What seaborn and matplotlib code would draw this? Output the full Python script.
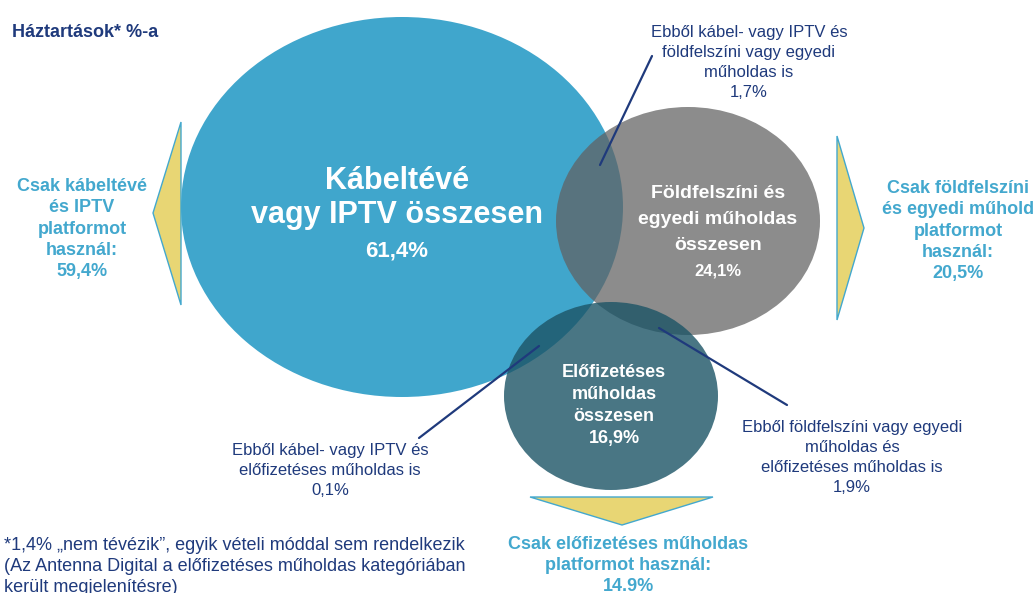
import matplotlib
matplotlib.use("Agg")
import matplotlib.pyplot as plt
import seaborn as sns
from matplotlib.patches import Ellipse, Polygon

# set totals (circle labels)
set_names = ["Kábeltévé\nvagy IPTV összesen",
             "Földfelszíni és\negyedi műholdas\nösszesen",
             "Előfizetéses\nműholdas\nösszesen"]
set_totals = [61.4, 24.1, 16.9]

# only-one-platform callouts
only_labels = ["Csak kábeltévé\nés IPTV\nplatformot\nhasznál:",
               "Csak földfelszíni\nés egyedi műhold\nplatformot\nhasznál:",
               "Csak előfizetéses műholdas\nplatformot használ:"]
only_values = [59.4, 20.5, 14.9]
only_sep = [",", ",", "."]

# overlap annotations
pair_labels = ["Ebből kábel- vagy IPTV és\nföldfelszíni vagy egyedi\nműholdas is",
               "Ebből földfelszíni vagy egyedi\nműholdas és\nelőfizetéses műholdas is",
               "Ebből kábel- vagy IPTV és\nelőfizetéses műholdas is"]
pair_values = [1.7, 1.9, 0.1]

title = "Háztartások* %-a"
no_tv = 1.4
footnote = ("*{} „nem tévézik”, egyik vételi móddal sem rendelkezik\n"
            "(Az Antenna Digital a előfizetéses műholdas kategóriában\n"
            "került megjelenítésre)")

NAVY = "#1f3a7c"
LIGHT = "#43a8ce"


def pct(v, sep=","):
    return f"{v:.1f}".replace(".", sep) + "%"


def lines(ax, x, y0, step, text_lines, sizes, **kw):
    # place each line on its own baseline so sizes can differ
    for i, (t, s) in enumerate(zip(text_lines, sizes)):
        ax.text(x, y0 + i * step, t, ha="center", va="baseline", fontsize=s, **kw)


sns.set_theme(style="white")
plt.rcParams["font.family"] = ["Liberation Sans", "DejaVu Sans"]

fig = plt.figure(figsize=(10.36, 5.93), dpi=100)
ax = fig.add_axes([0, 0, 1, 1])
ax.set_xlim(0, 1036)
ax.set_ylim(593, 0)
ax.axis("off")

# circles
ax.add_patch(Ellipse((402, 207), 442, 380, color="#40a6cc", lw=0))
ax.add_patch(Ellipse((688, 221), 264, 228, color="#616161", alpha=0.73, lw=0))
ax.add_patch(Ellipse((611, 396), 214, 188, color="#1c5466", alpha=0.8, lw=0))

# yellow arrows
tri_kw = dict(closed=True, facecolor="#e8d674", edgecolor=LIGHT, lw=1)
ax.add_patch(Polygon([(181, 122), (181, 305), (153, 213)], **tri_kw))
ax.add_patch(Polygon([(837, 136), (837, 320), (864, 228)], **tri_kw))
ax.add_patch(Polygon([(530, 497), (713, 497), (622, 525)], **tri_kw))

# circle labels
n0 = set_names[0].split("\n")
lines(ax, 397, 189, 34, n0 + [pct(set_totals[0])], [22, 22, 16],
      color="white", fontweight="bold")
n1 = set_names[1].split("\n")
lines(ax, 718, 198, 26, n1 + [pct(set_totals[1])], [14, 14, 14, 12],
      color="white", fontweight="bold")
n2 = set_names[2].split("\n")
lines(ax, 614, 377, 22, n2 + [pct(set_totals[2])], [13] * 4,
      color="white", fontweight="bold")

# only-platform callouts
lines(ax, 82, 191, 21.3, only_labels[0].split("\n") + [pct(only_values[0], only_sep[0])],
      [13] * 5, color=LIGHT, fontweight="bold")
lines(ax, 958, 193, 21.3, only_labels[1].split("\n") + [pct(only_values[1], only_sep[1])],
      [13] * 5, color=LIGHT, fontweight="bold")
lines(ax, 628, 549, 21, only_labels[2].split("\n") + [pct(only_values[2], only_sep[2])],
      [13] * 3, color=LIGHT, fontweight="bold")

# overlap annotations with leader lines
lines(ax, 749, 37, 20, pair_labels[0].split("\n") + [pct(pair_values[0])],
      [12] * 4, color=NAVY)
ax.plot([652, 600], [56, 165], color=NAVY, lw=1.6)
lines(ax, 852, 432, 20, pair_labels[1].split("\n") + [pct(pair_values[1])],
      [12] * 4, color=NAVY)
ax.plot([659, 787], [328, 405], color=NAVY, lw=1.6)
lines(ax, 330, 455, 20, pair_labels[2].split("\n") + [pct(pair_values[2])],
      [12] * 3, color=NAVY)
ax.plot([539, 419], [346, 438], color=NAVY, lw=1.6)

# title and footnote
ax.text(12, 37, title, ha="left", va="baseline", fontsize=13,
        fontweight="bold", color=NAVY)
for i, t in enumerate(footnote.format(pct(no_tv)).split("\n")):
    ax.text(4, 550 + i * 21, t, ha="left", va="baseline", fontsize=13, color=NAVY)

plt.savefig("out.png", dpi=100)
